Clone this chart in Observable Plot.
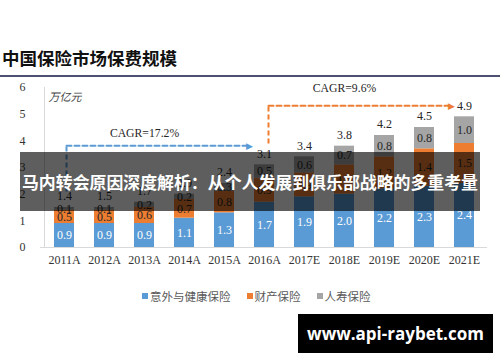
<!DOCTYPE html>
<html><head><meta charset="utf-8">
<script src="https://cdn.jsdelivr.net/npm/d3@7"></script>
<script src="https://cdn.jsdelivr.net/npm/@observablehq/plot@0.6"></script>
<style>
body{margin:0;background:#fff;}
#wrap{position:relative;width:500px;height:362px;overflow:hidden;background:#fff;}
#title{position:absolute;left:2px;top:47px;font:700 17.5px "Noto Sans CJK SC";line-height:22px;color:#111;white-space:nowrap;}
#rule{position:absolute;left:0;top:75px;width:500px;height:2px;background:#4f4f72;}
#chart{position:absolute;left:0;top:76px;}
#legend{position:absolute;left:142px;top:288px;height:16px;display:flex;align-items:center;font:11.5px "Noto Sans CJK SC";color:#595959;white-space:nowrap;}
#legend .item{display:flex;align-items:center;margin-right:16px;}
#legend .sw{width:6px;height:6px;margin-right:2px;}
#band{position:absolute;left:20px;top:152px;width:460px;height:59px;background:rgba(0,0,0,0.63);color:#fff;font:700 16.9px "Noto Sans CJK SC";display:flex;align-items:center;justify-content:center;white-space:nowrap;}
#mark{position:absolute;left:298px;top:314px;width:195px;height:39px;background:#000;color:#fff;font:700 17px "Open Sans";display:flex;align-items:center;justify-content:center;white-space:nowrap;}
</style></head>
<body>
<div id="wrap">
  <div id="title"></div>
  <div id="rule"></div>
  <div id="chart"></div>
  <div id="legend"></div>
  <div id="band"></div>
  <div id="mark"></div>
</div>
<script>
const titleText = "中国保险市场保费规模";
const unitLabel = "万亿元";
const years = ["2011A","2012A","2013A","2014A","2015A","2016A","2017E","2018E","2019E","2020E","2021E"];
const seriesNames = ["意外与健康保险","财产保险","人寿保险"];
const colors = ["#5b9bd5","#ed7d31","#a5a5a5"];
const health = [0.9,0.9,0.9,1.1,1.3,1.7,1.9,2.0,2.2,2.3,2.4];
const property = [0.5,0.5,0.6,0.7,0.8,0.9,0.9,1.1,1.2,1.4,1.5];
const life = [0.1,0.1,0.2,0.2,0.3,0.5,0.6,0.7,0.8,0.8,1.0];
const totals = [1.4,1.5,1.7,2.0,2.4,3.1,3.4,3.8,4.2,4.5,4.9];
const yTicks = [0,1,2,3,4,5,6];
const cagrBlue = {label:"CAGR=17.2%", from:"2011A", to:"2016A", start:2.1, level:3.82, labelAt:"2013A", labelY:4.27};
const cagrOrange = {label:"CAGR=9.6%", from:"2016A", to:"2021E", start:3.9, level:5.32, labelAt:"2018E", labelY:5.96};
const bannerText = "马内转会原因深度解析：从个人发展到俱乐部战略的多重考量";
const watermarkText = "www.api-raybet.com";

document.getElementById("title").textContent = titleText;
document.getElementById("band").textContent = bannerText;
document.getElementById("mark").textContent = watermarkText;

const series = [health, property, life];
const data = years.flatMap((y,i)=>seriesNames.map((s,k)=>({year:y, series:s, value:series[k][i]})));
const tops = years.map((y,i)=>({year:y, top:health[i]+property[i]+life[i], label:totals[i]}));

const dash = {strokeWidth:2, strokeDasharray:"5,3"};
function cagrMarks(c, color, dx, inset, triDx){
  return [
    Plot.link([c], {x1:"from", x2:"from", y1:"start", y2:"level", dx, stroke:color, ...dash}),
    Plot.arrow([c], {x1:"from", x2:"to", y1:"level", y2:"level", dx, insetEnd:inset, headLength:0, stroke:color, ...dash}),
    Plot.text([c], {x:"to", y:"level", text:()=>"\u25B6", dx:triDx, fill:color, fontSize:9, fontFamily:"DejaVu Sans"}),
    Plot.text([c], {x:"labelAt", y:"labelY", text:"label", fill:"#262626", fontSize:11.7})
  ];
}

const chart = Plot.plot({
  width:500, height:200,
  marginTop:11, marginBottom:29, marginLeft:40, marginRight:13,
  style:{fontFamily:"'Liberation Serif', 'Times New Roman', serif", fontSize:"12px", color:"#333", background:"transparent"},
  x:{domain:years, paddingInner:0.5, paddingOuter:0.25, label:null, tickSize:0, tickPadding:8},
  y:{domain:[0,6], ticks:yTicks, tickFormat:"d", label:null, tickSize:0, tickPadding:15},
  color:{domain:seriesNames, range:colors},
  marks:[
    Plot.ruleX([{x:years[0], y1:0, y2:6}], {x:"x", y1:"y1", y2:"y2", dx:-20, stroke:"#d9d9d9"}),
    Plot.ruleY([0], {stroke:"#d9d9d9"}),
    Plot.barY(data, {x:"year", y:"value", fill:"series", z:"series"}),
    Plot.text(data, Plot.stackY({x:"year", y:"value", z:"series", text:d=>d.series===seriesNames[0]?d.value.toFixed(1):null, fill:"white"})),
    Plot.text(data, Plot.stackY({x:"year", y:"value", z:"series", text:d=>d.series!==seriesNames[0]?d.value.toFixed(1):null, fill:"#262626"})),
    Plot.text(tops, {x:"year", y:"top", text:d=>d.label.toFixed(1), dy:-11, fill:"#262626"}),
    Plot.text([unitLabel], {frameAnchor:"top-left", text:d=>d, dx:8, dy:10, textAnchor:"start", lineAnchor:"middle", fontStyle:"italic", fontFamily:"Noto Sans CJK SC", fontSize:11, fill:"#404040"}),
    ...cagrMarks(cagrBlue, colors[0], 2, 20, -15),
    ...cagrMarks(cagrOrange, colors[1], 4, 19, -13)
  ]
});
document.getElementById("chart").appendChild(chart);

const legend = document.getElementById("legend");
seriesNames.forEach((s,k)=>{
  const it = document.createElement("div"); it.className="item";
  const sw = document.createElement("div"); sw.className="sw"; sw.style.background=colors[k];
  const tx = document.createElement("span"); tx.textContent=s;
  it.appendChild(sw); it.appendChild(tx); legend.appendChild(it);
});
</script>
</body></html>
